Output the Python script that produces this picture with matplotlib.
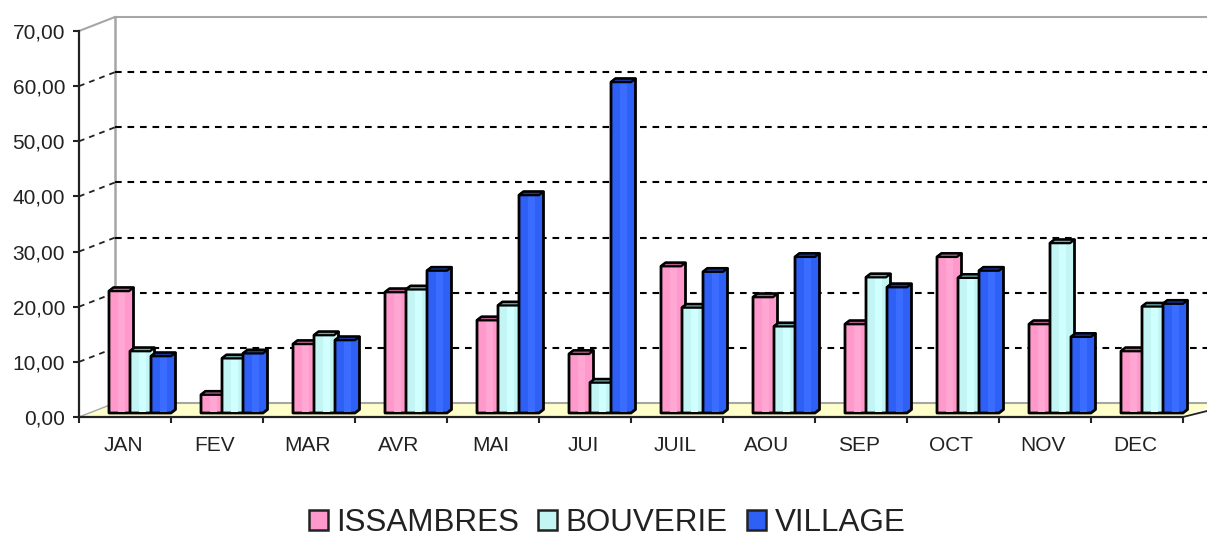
import matplotlib
matplotlib.use("Agg")
import matplotlib.pyplot as plt
from matplotlib.patches import Polygon, Patch
import numpy as np

months = ["JAN","FEV","MAR","AVR","MAI","JUI","JUIL","AOU","SEP","OCT","NOV","DEC"]
issambres = [22.1,3.3,12.5,21.9,16.8,10.7,26.6,21.0,16.1,28.3,16.1,11.2]
bouverie  = [11.2,9.9,14.1,22.4,19.5,5.5,19.1,15.7,24.6,24.5,30.8,19.3]
village   = [10.3,10.8,13.2,25.8,39.5,60.0,25.6,28.3,22.8,25.8,13.8,19.8]
series = [("ISSAMBRES",issambres,"#FF99CC","#FFA6D3","#B06088"),
          ("BOUVERIE",bouverie,"#C4F5F5","#D0FFFF","#6FA8A8"),
          ("VILLAGE",village,"#2F60F5","#3A6CFF","#1838A0")]
yticks = list(range(0,80,10))
ylabels = [f"{v},00" for v in yticks]

W,H = 1207,536
fig = plt.figure(figsize=(W/100,H/100),dpi=100)
plt.rcParams['font.family'] = ['Liberation Sans','DejaVu Sans']
L,R,T,B = 79,1183,31,417
ax = fig.add_axes([L/W,(H-B)/H,(R-L)/W,(B-T)/H])
ax.set_xlim(0,12); ax.set_ylim(0,70)
ax.patch.set_alpha(0)
pxx = 12/(R-L); pxy = 70/(B-T)
wx,wy = 36*pxx,14*pxy
xmax = 12+wx
def poly(pts,**k):
    p = Polygon(pts,clip_on=False,**k); ax.add_patch(p); return p
GREY="#A6A6A6"
poly([(0,0),(wx,wy),(xmax,wy),(12,0)],fc="#FFFFCC",ec="none",zorder=1)
ax.plot([wx,xmax],[wy,wy],color=GREY,lw=1.5,clip_on=False,zorder=1.5)
ax.plot([wx,wx],[wy,70+wy],color=GREY,lw=1.8,clip_on=False,zorder=1.5)
ax.plot([wx,xmax],[70+wy,70+wy],color=GREY,lw=1.5,clip_on=False,zorder=1.5)
ax.plot([0,wx],[70,70+wy],color=GREY,lw=1.5,clip_on=False,zorder=1.5)
for v in yticks[1:-1]:
    ax.plot([wx,xmax],[v+wy,v+wy],color="black",lw=1.5,dashes=(3.2,2.8),clip_on=False,zorder=2)
    ax.plot([0,wx],[v,v+wy],color="#222222",lw=1.3,dashes=(3.2,2.8),clip_on=False,zorder=2)
ax.plot([12,xmax],[0,9*pxy],color="#222222",lw=1.3,clip_on=False,zorder=2)
ax.plot([0,wx],[0,wy],color=GREY,lw=1,clip_on=False,zorder=1.5)
bw,step,x0 = 20*pxx,21*pxx,30*pxx
base = 4*pxy
dx,dy = 4.5*pxx,3.5*pxy
z=3
for m in range(12):
    for s,(name,vals,c,light,dark) in enumerate(series):
        x = m+x0+s*step; v = vals[m]; y0 = base; y1 = base+v
        poly([(x,y0),(x+bw,y0),(x+bw+dx,y0+dy),(x+bw+dx,y1+dy),(x+dx,y1+dy),(x,y1)],fc=c,ec="black",lw=2,zorder=z,joinstyle="round")
        ax.bar(x+bw*.45,v-.2,width=bw*.35,bottom=y0+.1,align="edge",color=light,linewidth=0,zorder=z+.1,clip_on=False)
        poly([(x,y1),(x+dx,y1+dy),(x+bw+dx,y1+dy),(x+bw,y1)],fc=dark,ec="black",lw=1.6,zorder=z+.2,joinstyle="round")
        z+=1
for sp in ("top","right"): ax.spines[sp].set_visible(False)
for sp in ("left","bottom"):
    ax.spines[sp].set_linewidth(1.6); ax.spines[sp].set_color("#222222"); ax.spines[sp].set_zorder(100)
ax.set_yticks(yticks); ax.set_yticklabels(ylabels,fontsize=15,color="#222222")
ax.set_xticks(range(13)); ax.set_xticklabels([])
ax.set_xticks(np.arange(12)+.5-2*pxx,minor=True); ax.set_xticklabels(months,minor=True,fontsize=15,color="#222222")
ax.tick_params(axis="y",length=4,width=1.5,pad=6,color="#222222")
ax.tick_params(axis="x",which="major",length=4,width=1.5,color="#222222")
ax.tick_params(axis="x",which="minor",length=0,pad=14)
h=[Patch(fc=c,ec="#222222",lw=1.8,label=n) for n,_,c,_,_ in series]
fig.legend(handles=h,loc="center",bbox_to_anchor=(607/W,(H-523)/H),ncols=3,frameon=False,fontsize=22.6,
           handlelength=.6,handleheight=.6,handletextpad=.28,columnspacing=.6,labelcolor="#222222",borderpad=0)
fig.savefig("out.png",dpi=100)
